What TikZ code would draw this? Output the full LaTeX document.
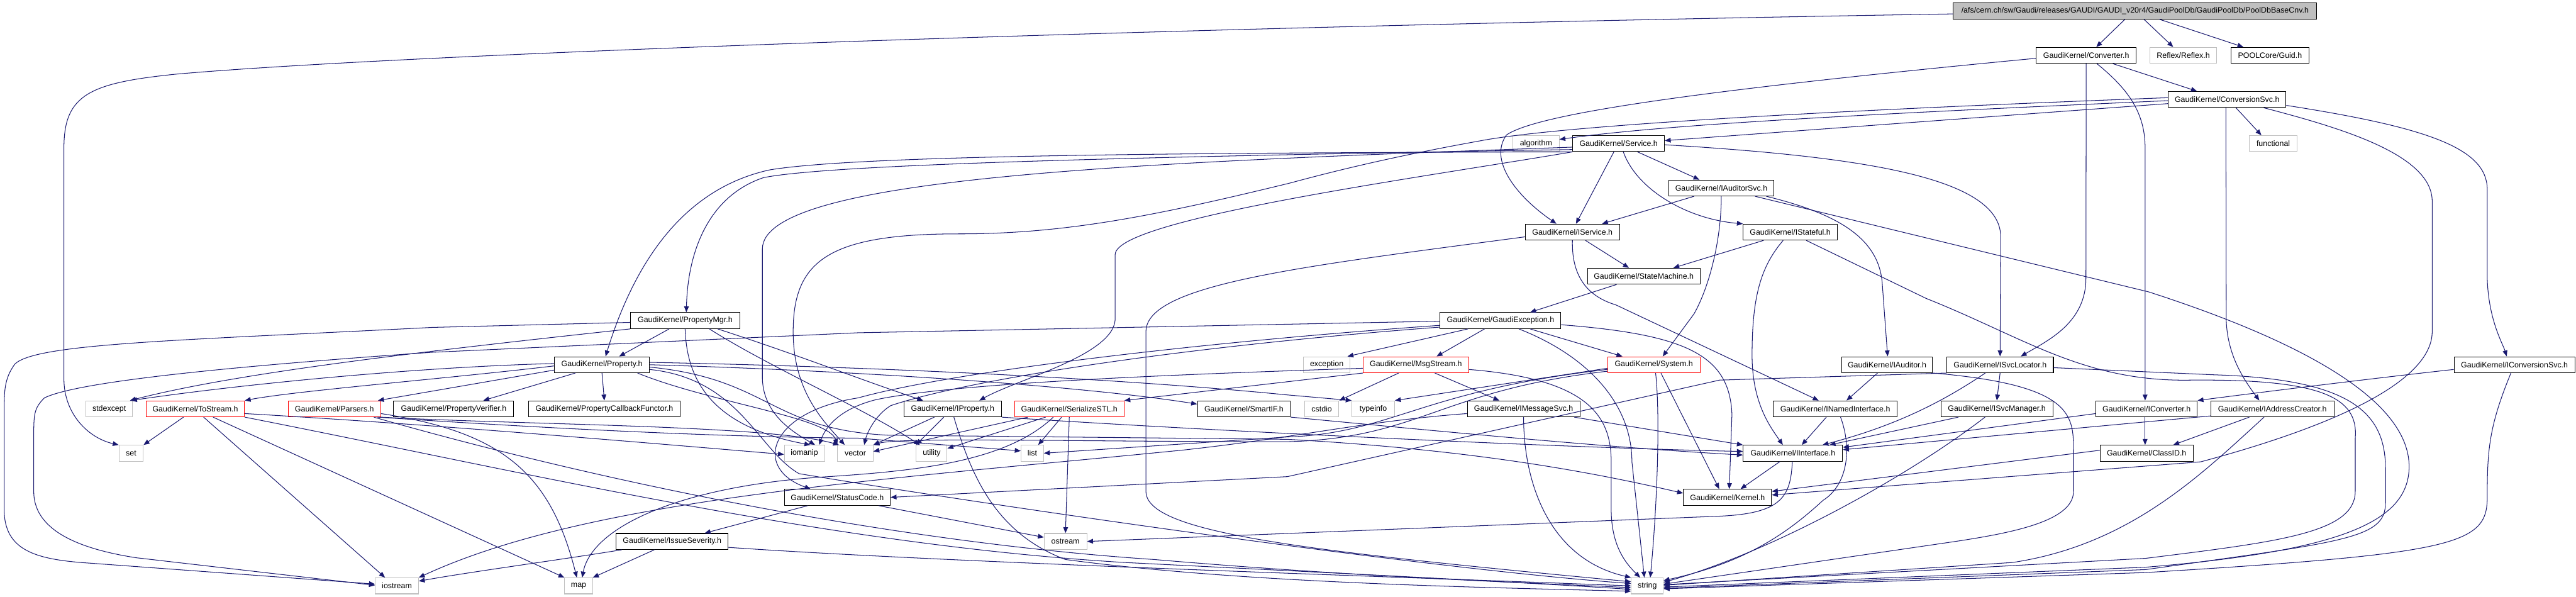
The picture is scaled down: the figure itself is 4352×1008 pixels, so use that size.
\documentclass[tikz,border=0pt]{standalone}
\usepackage{fontspec}
\setmainfont{Liberation Sans}
\usetikzlibrary{arrows.meta,calc}
\definecolor{edgec}{HTML}{191970}
\definecolor{graybd}{HTML}{BFBFBF}
\definecolor{rootfill}{HTML}{BFBFBF}
\begin{document}
\begin{tikzpicture}[x=1pt,y=-1pt,
 nb/.style={draw=black,line width=1.1pt,minimum height=27pt,inner sep=0pt,font=\fontsize{13.2}{15}\selectfont},
 gb/.style={nb,draw=graybd},
 rb/.style={nb,draw=red},
 inc/.style={draw=edgec,line width=1.1pt,-{Triangle[length=10pt,width=8pt]}}]
\fill[white] (0,0) rectangle (4352,1008);
\useasboundingbox (0,0) rectangle (4352,1008);
% ---------- nodes ----------
\node[nb,fill=rootfill,minimum width=614pt] (root) at (3607,18.5) {/afs/cern.ch/sw/Gaudi/releases/GAUDI/GAUDI\_v20r4/GaudiPoolDb/GaudiPoolDb/PoolDbBaseCnv.h};
\node[gb,minimum width=113pt] (Reflex) at (3688.5,93.5) {Reflex/Reflex.h};
\node[nb,minimum width=132pt] (Guid) at (3835,93.5) {POOLCore/Guid.h};
\node[nb,minimum width=169pt] (Converter) at (3524.5,93.5) {GaudiKernel/Converter.h};
\node[nb,minimum width=199pt] (ConversionSvc) at (3762.5,168) {GaudiKernel/ConversionSvc.h};
\node[gb,minimum width=81pt] (functional) at (3840.5,242.5) {functional};
\node[gb,minimum width=78pt] (algorithm) at (2595,242.5) {algorithm};
\node[nb,minimum width=155pt] (Service) at (2734.5,242.5) {GaudiKernel/Service.h};
\node[nb,minimum width=178pt] (IAuditorSvc) at (2908,317.5) {GaudiKernel/IAuditorSvc.h};
\node[nb,minimum width=159pt] (IService) at (2656.5,392) {GaudiKernel/IService.h};
\node[nb,minimum width=159pt] (IStateful) at (3024.5,392) {GaudiKernel/IStateful.h};
\node[nb,minimum width=190pt] (StateMachine) at (2777,466.5) {GaudiKernel/StateMachine.h};
\node[nb,minimum width=185pt] (PropertyMgr) at (1157.5,541.5) {GaudiKernel/PropertyMgr.h};
\node[nb,minimum width=204pt] (GaudiException) at (2535,541.5) {GaudiKernel/GaudiException.h};
\node[nb,minimum width=160pt] (Property) at (1017,616) {GaudiKernel/Property.h};
\node[gb,minimum width=79pt] (exception) at (2241.5,616) {exception};
\node[rb,minimum width=178pt] (MsgStream) at (2392,616) {GaudiKernel/MsgStream.h};
\node[rb,minimum width=156pt] (System) at (2794,616) {GaudiKernel/System.h};
\node[nb,minimum width=154pt] (IAuditor) at (3188,616) {GaudiKernel/IAuditor.h};
\node[nb,minimum width=180pt] (ISvcLocator) at (3379,616) {GaudiKernel/ISvcLocator.h};
\node[nb,minimum width=204pt] (IConversionSvc) at (4248,616) {GaudiKernel/IConversionSvc.h};
\node[gb,minimum width=79pt] (stdexcept) at (184.5,690.5) {stdexcept};
\node[rb,minimum width=166pt] (ToStream) at (330,690.5) {GaudiKernel/ToStream.h};
\node[rb,minimum width=156pt] (Parsers) at (565,690.5) {GaudiKernel/Parsers.h};
\node[nb,minimum width=203pt] (PropertyVerifier) at (766.5,690.5) {GaudiKernel/PropertyVerifier.h};
\node[nb,minimum width=256pt] (PCF) at (1021,690.5) {GaudiKernel/PropertyCallbackFunctor.h};
\node[nb,minimum width=165pt] (IProperty) at (1609.5,690.5) {GaudiKernel/IProperty.h};
\node[rb,minimum width=185pt] (SerializeSTL) at (1806.5,690.5) {GaudiKernel/SerializeSTL.h};
\node[nb,minimum width=157pt] (SmartIF) at (2101.5,690.5) {GaudiKernel/SmartIF.h};
\node[gb,minimum width=58pt] (cstdio) at (2233,690.5) {cstdio};
\node[gb,minimum width=72pt] (typeinfo) at (2320,690.5) {typeinfo};
\node[nb,minimum width=190pt] (IMessageSvc) at (2574,690.5) {GaudiKernel/IMessageSvc.h};
\node[nb,minimum width=209pt] (INamedInterface) at (3100.5,690.5) {GaudiKernel/INamedInterface.h};
\node[nb,minimum width=189pt] (ISvcManager) at (3373.5,690.5) {GaudiKernel/ISvcManager.h};
\node[nb,minimum width=171pt] (IConverter) at (3626.5,690.5) {GaudiKernel/IConverter.h};
\node[nb,minimum width=208pt] (IAddressCreator) at (3839,690.5) {GaudiKernel/IAddressCreator.h};
\node[gb,minimum width=41pt] (set) at (221.5,765.5) {set};
\node[gb,minimum width=68pt] (iomanip) at (1359,765.5) {iomanip};
\node[gb,minimum width=60pt] (vector) at (1445,765.5) {vector};
\node[gb,minimum width=52pt] (utility) at (1574,765.5) {utility};
\node[gb,minimum width=38pt] (list) at (1744,765.5) {list};
\node[nb,minimum width=168pt] (IInterface) at (3029,765.5) {GaudiKernel/IInterface.h};
\node[nb,minimum width=157pt] (ClassID) at (3626.5,765.5) {GaudiKernel/ClassID.h};
\node[nb,minimum width=179pt] (StatusCode) at (1414.5,840) {GaudiKernel/StatusCode.h};
\node[nb,minimum width=149pt] (Kernel) at (2918.5,840) {GaudiKernel/Kernel.h};
\node[nb,minimum width=189pt] (IssueSeverity) at (1135.5,914.5) {GaudiKernel/IssueSeverity.h};
\node[gb,minimum width=72pt] (ostream) at (1800,914.5) {ostream};
\node[gb,minimum width=73pt] (iostream) at (670.5,989.5) {iostream};
\node[gb,minimum width=47pt] (map) at (977.5,989.5) {map};
\node[gb,minimum width=54pt] (string) at (2783,989.5) {string};
% ---------- root ----------
\draw[inc] ($(root.west)+(0,5)$) .. controls (2000,45) and (700,90) .. (300,125) .. controls (150,140) and (108,160) .. (108,250) -- (108,640) .. controls (108,700) and (150,740) .. (set.north west);
\draw[inc] ($(root.south)+(-17,0)$) -- ($(Converter.north)+(17,0)$);
\draw[inc] ($(root.south)+(15,0)$) -- ($(Reflex.north)+(-17,0)$);
\draw[inc] ($(root.south)+(41,0)$) -- ($(Guid.north)+(-45,0)$);
% ---------- Converter ----------
\draw[inc] ($(Converter.west)+(0,5)$) .. controls (2900,150) and (2600,190) .. (2545,228) .. controls (2515,270) and (2560,330) .. ($(IService.north)+(-27,0)$);
\draw[inc] (Converter.south) -- (3524,470) .. controls (3524,545) and (3460,575) .. ($(ISvcLocator.north)+(35,0)$);
\draw[inc] ($(Converter.south)+(18,0)$) .. controls (3595,150) and (3624,190) .. (3624,250) -- ($(IConverter.north)+(-2.5,0)$);
\draw[inc] ($(Converter.south)+(45,0)$) -- ($(ConversionSvc.north)+(-51,0)$);
% ---------- ConversionSvc ----------
\draw[inc] ($(ConversionSvc.west)+(0,7)$) -- ($(Service.east)+(0,-5)$);
\draw[inc] ($(ConversionSvc.west)+(0,2)$) .. controls (3100,195) and (2800,212) .. ($(algorithm.east)+(0,-7)$);
\draw[inc] ($(ConversionSvc.west)+(0,-3)$) .. controls (3000,190) and (2620,215) .. (2500,238) .. controls (2350,265) and (2250,290) .. (2180,309) .. controls (1950,365) and (1800,395) .. (1620,395) .. controls (1400,395) and (1340,440) .. (1340,560) .. controls (1340,660) and (1390,710) .. ($(vector.north)+(-18,0)$);
\draw[inc] ($(ConversionSvc.south)+(15,0)$) -- ($(functional.north)+(-20,0)$);
\draw[inc] ($(ConversionSvc.south)+(-2,0)$) -- (3761,540) .. controls (3763,600) and (3790,640) .. ($(IAddressCreator.north)+(-22,0)$);
\draw[inc] ($(ConversionSvc.east)+(0,10)$) .. controls (4100,215) and (4202,250) .. (4202,320) -- (4202,470) .. controls (4204,540) and (4228,580) .. ($(IConversionSvc.north)+(-13,0)$);
\draw[inc] ($(ConversionSvc.south)+(62,0)$) .. controls (3950,215) and (4109,260) .. (4109,340) -- (4109,560) .. controls (4109,640) and (3960,715) .. (3718,780) -- ($(Kernel.east)+(0,-4)$);
% ---------- Service ----------
\draw[inc] ($(Service.south)+(-8,0)$) -- ($(IService.north)+(6,0)$);
\draw[inc] ($(Service.south)+(32,0)$) -- ($(IAuditorSvc.north)+(-37,0)$);
\draw[inc] ($(Service.south)+(8,0)$) .. controls (2765,320) and (2850,370) .. (IStateful.north west);
\draw[inc] ($(Service.east)+(0,2)$) .. controls (3150,265) and (3380,300) .. (3380,400) -- (ISvcLocator.north);
\draw[inc] (Service.south west) .. controls (2000,258) and (1450,262) .. (1300,287) .. controls (1150,320) and (1070,450) .. ($(Property.north)+(6,0)$);
\draw[inc] ($(Service.south west)+(0,-4)$) .. controls (1900,265) and (1400,278) .. (1290,300) .. controls (1200,330) and (1162,420) .. ($(PropertyMgr.north)+(2,0)$);
\draw[inc] ($(Service.south west)+(0,-8)$) .. controls (1900,275) and (1290,300) .. (1288,420) -- (1288,640) .. controls (1290,700) and (1340,730) .. ($(iomanip.north)+(18,0)$);
\draw[inc] (Service.south west) .. controls (2400,300) and (1884,370) .. (1884,430) -- (1884,540) .. controls (1880,600) and (1720,640) .. ($(IProperty.north)+(45,0)$);
% ---------- IService ----------
\draw[inc] (IService.south) .. controls (2655,465) and (2680,500) .. (2730,515) -- ($(INamedInterface.north)+(-28,0)$);
\draw[inc] ($(IService.south)+(22,0)$) -- ($(StateMachine.north)+(-25,0)$);
\draw[inc] ($(IService.west)+(0,8)$) .. controls (2200,450) and (1936,480) .. (1936,560) -- (1936,830) .. controls (1936,900) and (2200,930) .. ($(string.west)+(0,-7)$);
% ---------- IAuditorSvc ----------
\draw[inc] ($(IAuditorSvc.south)+(-46,0)$) -- ($(IService.north)+(50,0)$);
\draw[inc] (IAuditorSvc.south) .. controls (2908,400) and (2890,480) .. (2862,530) -- ($(System.north)+(15,0)$);
\draw[inc] ($(IAuditorSvc.south)+(76,0)$) .. controls (3100,360) and (3175,400) .. (3180,480) -- ($(IAuditor.north)+(1,0)$);
\draw[inc] ($(IAuditorSvc.south)+(57,0)$) -- (3630,493) .. controls (3900,580) and (4072,680) .. (4070,790) .. controls (4068,880) and (3960,930) .. (3625,958) -- ($(string.east)+(0,2)$);
% ---------- IStateful ----------
\draw[inc] ($(IStateful.south)+(-45,0)$) -- ($(StateMachine.north)+(50,0)$);
\draw[inc] ($(IStateful.south)+(-12,0)$) .. controls (2975,450) and (2960,500) .. (2960,600) .. controls (2960,680) and (2990,720) .. ($(IInterface.north)+(-17,0)$);
\draw[inc] ($(IStateful.south)+(27,0)$) -- (3254,504) .. controls (3420,570) and (3520,645) .. (3700,642) .. controls (3920,640) and (3985,670) .. (3979,740) -- (3979,830) .. controls (3979,900) and (3850,915) .. (3625,943) -- ($(string.east)+(0,-2)$);
% ---------- ISvcLocator ----------
\draw[inc] ($(ISvcLocator.east)+(0,5)$) -- (3740,633) .. controls (3960,640) and (4030,690) .. (4030,790) -- (4030,850) .. controls (4030,910) and (3960,915) .. (3625,962) -- ($(string.east)+(0,4)$);
\draw[inc] ($(ISvcLocator.south)+(-25,0)$) .. controls (3280,680) and (3200,720) .. ($(IInterface.north)+(50,0)$);
\draw[inc] (ISvcLocator.south) -- (ISvcManager.north);
\draw[inc] (ISvcLocator.south west) -- (2905,642) -- (2175,805) -- (StatusCode.east);
% ---------- StateMachine / GaudiException ----------
\draw[inc] ($(StateMachine.south)+(-46,0)$) -- ($(GaudiException.north)+(50,0)$);
\draw[inc] ($(GaudiException.south)+(-55,0)$) -- ($(exception.north)+(35,0)$);
\draw[inc] ($(GaudiException.south)+(-27,0)$) -- ($(MsgStream.north)+(35,0)$);
\draw[inc] ($(GaudiException.south)+(50,0)$) -- ($(System.north)+(-53,0)$);
\draw[inc] ($(GaudiException.south)+(31,0)$) .. controls (2680,600) and (2757,680) .. (2757,780) -- ($(string.north)+(-5,0)$);
\draw[inc] ($(GaudiException.east)+(0,7)$) .. controls (2850,565) and (2922,600) .. (2926,700) -- ($(Kernel.north)+(3,0)$);
\draw[inc] ($(GaudiException.west)+(0,1)$) -- (1450,562) -- (730,595) .. controls (300,625) and (120,650) .. (75,672) .. controls (57,690) and (57,700) .. (57,740) -- (57,830) .. controls (57,890) and (120,925) .. (230,942) -- ($(iostream.west)+(0,-1)$);
\draw[inc] ($(GaudiException.west)+(0,8)$) .. controls (2000,580) and (1600,630) .. (1450,672) .. controls (1300,695) and (1270,790) .. ($(StatusCode.north)+(-45,0)$);
\draw[inc] ($(GaudiException.west)+(0,11)$) .. controls (2000,585) and (1640,640) .. (1505,685) .. controls (1480,700) and (1465,730) .. ($(vector.north)+(15,0)$);
% ---------- PropertyMgr ----------
\draw[inc] ($(PropertyMgr.south)+(-27,0)$) -- ($(Property.north)+(29,0)$);
\draw[inc] ($(PropertyMgr.west)+(0,3)$) -- (730,553) .. controls (300,575) and (60,580) .. (25,615) .. controls (7,640) and (7,660) .. (7,700) -- (7,860) .. controls (7,930) and (60,945) .. (150,951) -- ($(iostream.west)+(0,-3)$);
\draw[inc] (PropertyMgr.south west) .. controls (700,595) and (400,630) .. ($(stdexcept.north)+(35,0)$);
\draw[inc] ($(PropertyMgr.south)+(55,0)$) .. controls (1350,600) and (1450,640) .. ($(IProperty.north)+(-50,0)$);
\draw[inc] (PropertyMgr.south) .. controls (1160,640) and (1200,720) .. ($(iomanip.north)+(10,0)$);
\draw[inc] ($(PropertyMgr.south)+(41,0)$) .. controls (1300,620) and (1460,690) .. ($(utility.north)+(-20,0)$);
% ---------- Property ----------
\draw[inc] ($(Property.west)+(0,-2)$) .. controls (700,620) and (400,650) .. ($(stdexcept.north)+(37,0)$);
\draw[inc] ($(Property.west)+(0,2)$) .. controls (750,640) and (500,660) .. (ToStream.north east);
\draw[inc] ($(Property.west)+(0,9)$) -- ($(Parsers.north east)+(-5,0)$);
\draw[inc] ($(Property.south)+(-45,0)$) -- ($(PropertyVerifier.north)+(50,0)$);
\draw[inc] (Property.south) -- (PCF.north);
\draw[inc] ($(Property.east)+(0,-4)$) .. controls (1500,620) and (1900,640) .. (2175,667) -- (typeinfo.north west);
\draw[inc] (Property.east) .. controls (1500,628) and (1850,655) .. ($(SmartIF.west)+(0,-8)$);
\draw[inc] ($(Property.east)+(0,4)$) .. controls (1300,640) and (1300,725) .. (1500,735) -- (2175,742) .. controls (2500,760) and (2700,800) .. ($(Kernel.west)+(0,-7)$);
\draw[inc] ($(Property.east)+(0,8)$) .. controls (1250,640) and (1280,760) .. (1350,800) .. controls (1650,850) and (2400,960) .. ($(string.west)+(0,-4)$);
\draw[inc] ($(Property.south)+(60,0)$) .. controls (1200,680) and (1400,705) .. (vector.north west);
% ---------- ToStream ----------
\draw[inc] ($(ToStream.south)+(-20,0)$) -- (set.north east);
\draw[inc] ($(ToStream.south)+(14,0)$) -- ($(iostream.north)+(-20,0)$);
\draw[inc] ($(ToStream.south)+(30,0)$) -- (map.north west);
\draw[inc] ($(ToStream.east)+(0,8)$) .. controls (700,715) and (1000,740) .. ($(iomanip.west)+(0,2)$);
\draw[inc] (ToStream.south east) .. controls (900,800) and (1400,920) .. (1900,950) .. controls (2300,970) and (2600,985) .. ($(string.west)+(0,6)$);
% ---------- Parsers ----------
\draw[inc] ($(Parsers.east)+(0,8)$) .. controls (850,730) and (930,800) .. ($(map.north)+(-3,0)$);
\draw[inc] (Parsers.south east) .. controls (900,718) and (1300,718) .. ($(vector.north west)+(3,0)$);
\draw[inc] ($(Parsers.south east)+(-6,0)$) .. controls (900,722) and (1200,738) .. (1450,740) -- ($(list.west)+(0,-4)$);
\draw[inc] ($(Parsers.south east)+(-12,0)$) .. controls (1000,810) and (1500,915) .. (1950,945) .. controls (2300,975) and (2600,985) .. ($(string.west)+(0,3)$);
% ---------- IProperty ----------
\draw[inc] ($(IProperty.south)+(-31,0)$) -- (vector.north east);
\draw[inc] ($(IProperty.south)+(-15,0)$) -- (utility.north west);
\draw[inc] ($(IProperty.south)+(2,0)$) .. controls (1640,800) and (1680,900) .. (1800,945) .. controls (2100,985) and (2500,992) .. ($(string.west)+(0,9)$);
\draw[inc] (IProperty.south east) .. controls (2000,725) and (2600,755) .. ($(IInterface.west)+(0,-3)$);
% ---------- SmartIF ----------
\draw[inc] (SmartIF.south east) .. controls (2400,725) and (2700,755) .. ($(IInterface.west)+(0,3)$);
% ---------- MsgStream ----------
\draw[inc] ($(MsgStream.south)+(-29,0)$) -- (cstdio.north east);
\draw[inc] ($(MsgStream.south)+(32,0)$) -- ($(IMessageSvc.north)+(-41,0)$);
\draw[inc] (MsgStream.south west) -- (SerializeSTL.north east);
\draw[inc] ($(MsgStream.east)+(0,8)$) .. controls (2680,640) and (2722,700) .. (2722,780) -- (2722,860) .. controls (2722,920) and (2745,950) .. ($(string.north)+(-12,0)$);
\draw[inc] ($(MsgStream.west)+(0,6)$) .. controls (1900,635) and (1600,650) .. (1480,675) .. controls (1420,690) and (1395,720) .. ($(iomanip.north)+(25,0)$);
% ---------- System ----------
\draw[inc] ($(System.west)+(0,6)$) -- (typeinfo.north east);
\draw[inc] ($(System.west)+(0,8)$) .. controls (2400,660) and (2350,732) .. (2175,738) -- (list.east);
\draw[inc] ($(System.west)+(0,11)$) .. controls (2430,660) and (2400,740) .. (2175,746) .. controls (1800,746) and (1520,738) .. (vector.north east);
\draw[inc] ($(System.south)+(3,0)$) .. controls (2805,700) and (2800,850) .. ($(string.north)+(5,0)$);
\draw[inc] ($(System.south)+(12,0)$) -- ($(Kernel.north)+(-14,0)$);
% ---------- IMessageSvc ----------
\draw[inc] (IMessageSvc.south) .. controls (2574,820) and (2620,945) .. (string.north west);
\draw[inc] ($(IMessageSvc.south east)+(-10,0)$) -- (IInterface.north west);
\draw[inc] ($(IMessageSvc.west)+(0,8)$) .. controls (2300,712) and (2200,738) .. (2000,760) .. controls (1500,810) and (1000,840) .. (iostream.north east);
% ---------- SerializeSTL ----------
\draw[inc] ($(SerializeSTL.south)+(-70,0)$) -- ($(vector.east)+(0,-3)$);
\draw[inc] ($(SerializeSTL.south)+(-40,0)$) -- ($(utility.east)+(0,-8)$);
\draw[inc] ($(SerializeSTL.south)+(-13,0)$) -- ($(list.north)+(10,0)$);
\draw[inc] (SerializeSTL.south) -- (ostream.north);
\draw[inc] ($(SerializeSTL.south)+(-27,0)$) .. controls (1700,780) and (1550,795) .. (1400,805) .. controls (1150,820) and (1000,890) .. ($(map.north)+(6,0)$);
% ---------- StatusCode / IssueSeverity ----------
\draw[inc] ($(StatusCode.south)+(-50,0)$) -- ($(IssueSeverity.north)+(55,0)$);
\draw[inc] ($(StatusCode.south)+(70,0)$) -- ($(ostream.west)+(0,-7)$);
\draw[inc] ($(IssueSeverity.south)+(-30,0)$) -- (map.north east);
\draw[inc] ($(IssueSeverity.south west)+(10,0)$) .. controls (950,945) and (800,965) .. ($(iostream.east)+(0,-8)$);
\draw[inc] ($(IssueSeverity.east)+(0,10)$) .. controls (1600,950) and (2300,972) .. (string.west);
% ---------- ISvcManager ----------
\draw[inc] ($(ISvcManager.south)+(-65,0)$) -- ($(IInterface.north)+(62,0)$);
\draw[inc] ($(ISvcManager.south)+(-20,0)$) .. controls (3230,800) and (3000,930) .. ($(string.east)+(0,-6)$);
% ---------- INamedInterface ----------
\draw[inc] ($(INamedInterface.south)+(-15,0)$) -- ($(IInterface.north)+(15,0)$);
\draw[inc] ($(INamedInterface.south)+(9,0)$) .. controls (3130,760) and (3120,820) .. (3080,845) .. controls (3020,900) and (2950,950) .. ($(string.east)+(0,-9)$);
% ---------- IAuditor ----------
\draw[inc] ($(IAuditor.south)+(-16,0)$) -- ($(INamedInterface.north)+(19,0)$);
\draw[inc] (IAuditor.south east) .. controls (3500,650) and (3503,700) .. (3503,760) -- (3503,830) .. controls (3503,880) and (3400,900) .. (3300,915) -- ($(string.east)+(0,-3)$);
% ---------- IConverter / IAddressCreator / IConversionSvc ----------
\draw[inc] ($(IConverter.south)+(-2.5,0)$) -- ($(ClassID.north)+(-2.5,0)$);
\draw[inc] ($(IConverter.west)+(0,8)$) -- ($(IInterface.east)+(0,-10)$);
\draw[inc] ($(IAddressCreator.south)+(-39,0)$) -- ($(ClassID.north)+(45,0)$);
\draw[inc] ($(IAddressCreator.west)+(0,12)$) -- ($(IInterface.east)+(0,-6)$);
\draw[inc] ($(IAddressCreator.south)+(-14,0)$) .. controls (3720,800) and (3600,920) .. (3400,950) -- ($(string.east)+(0,-1)$);
\draw[inc] ($(IConversionSvc.west)+(0,8)$) .. controls (4000,640) and (3800,665) .. (IConverter.north east);
\draw[inc] ($(IConversionSvc.south)+(-6,0)$) .. controls (4205,720) and (4202,760) .. (4202,840) .. controls (4202,920) and (4150,935) .. (3625,967) -- ($(string.east)+(0,5)$);
% ---------- ClassID / IInterface ----------
\draw[inc] ($(ClassID.west)+(0,-5)$) -- ($(Kernel.east)+(0,-10)$);
\draw[inc] ($(IInterface.south)+(-22,0)$) -- ($(Kernel.north)+(22,0)$);
\draw[inc] ($(IInterface.south)+(-1,0)$) .. controls (3025,840) and (3010,868) .. (2900,872) -- (ostream.east);
\end{tikzpicture}
\end{document}
